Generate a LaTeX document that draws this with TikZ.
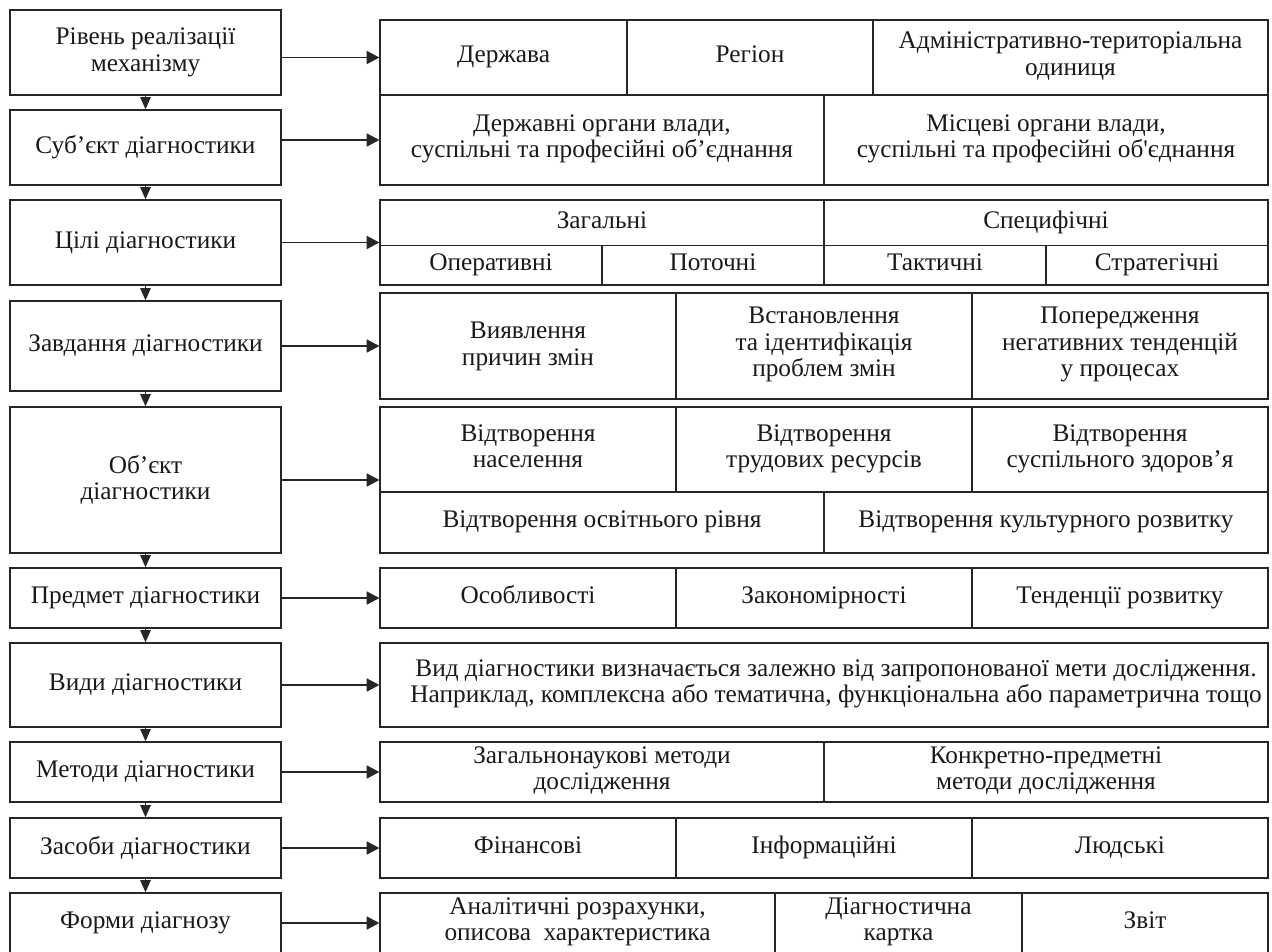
\documentclass[tikz,border=0pt]{standalone}
\usepackage{fontspec}
\setmainfont{Liberation Serif}
\usetikzlibrary{arrows.meta}
\begin{document}
\begin{tikzpicture}[x=0.02cm, y=-0.02cm,
    lbox/.style={draw=black!85, line width=0.8pt, minimum width=5.42cm, align=center,
        font=\fontsize{14.4}{15.2}\selectfont, text=black!90},
    frame/.style={draw=black!85, line width=0.8pt, minimum width=17.76cm, inner sep=0pt},
    rule/.style={draw=black!85, line width=0.8pt},
    txt/.style={align=center, font=\fontsize{14.4}{15.2}\selectfont, text=black!90, inner sep=0pt,
        execute at begin node=\strut, execute at end node=\strut},
    harr/.style={draw=black!85, line width=0.8pt, -{Triangle[length=7.2pt, width=7.4pt]}},
    varr/.style={draw=black!85, line width=0.8pt, -{Triangle[length=7pt, width=6pt]}}]
    \useasboundingbox (0,0) rectangle (1272,951);
    \clip (0,0) rectangle (1272,951);

    \node[lbox, minimum height=1.70cm] (l1) at (145.5,52.5) {Рівень реалізації\\механізму};
    \node[lbox, minimum height=1.50cm] (l2) at (145.5,147.5) {Суб’єкт діагностики};
    \node[lbox, minimum height=1.70cm] (l3) at (145.5,242.5) {Цілі діагностики};
    \node[lbox, minimum height=1.80cm] (l4) at (145.5,346) {Завдання діагностики};
    \node[lbox, minimum height=2.92cm] (l5) at (145.5,480) {Об’єкт\\діагностики};
    \node[lbox, minimum height=1.20cm] (l6) at (145.5,598) {Предмет діагностики};
    \node[lbox, minimum height=1.68cm] (l7) at (145.5,685) {Види діагностики};
    \node[lbox, minimum height=1.20cm] (l8) at (145.5,772) {Методи діагностики};
    \node[lbox, minimum height=1.20cm] (l9) at (145.5,848) {Засоби діагностики};
    \node[lbox, minimum height=1.20cm] (l10) at (145.5,923) {Форми діагнозу};

    \node[frame, minimum height=1.50cm] (r1) at (824,57.5) {};
    \node[frame, minimum height=1.80cm] (r2) at (824,140) {};
    \node[frame, minimum height=1.70cm] (r3) at (824,242.5) {};
    \node[frame, minimum height=2.12cm] (r4) at (824,346) {};
    \node[frame, minimum height=2.92cm] (r5) at (824,480) {};
    \node[frame, minimum height=1.20cm] (r6) at (824,598) {};
    \node[frame, minimum height=1.68cm] (r7) at (824,685) {};
    \node[frame, minimum height=1.20cm] (r8) at (824,772) {};
    \node[frame, minimum height=1.20cm] (r9) at (824,848) {};
    \node[frame, minimum height=1.20cm] (r10) at (824,923) {};

    \draw[rule] (627,20) -- (627,95);
    \draw[rule] (873,20) -- (873,95);
    \draw[rule] (824,95) -- (824,185);
    \draw[rule] (380,245.5) -- (1268,245.5);
    \draw[rule] (824,200) -- (824,285);
    \draw[rule] (602,245.5) -- (602,285);
    \draw[rule] (1046,245.5) -- (1046,285);
    \draw[rule] (676,293) -- (676,399);
    \draw[rule] (972,293) -- (972,399);
    \draw[rule] (380,492) -- (1268,492);
    \draw[rule] (676,407) -- (676,492);
    \draw[rule] (972,407) -- (972,492);
    \draw[rule] (824,492) -- (824,553);
    \draw[rule] (676,568) -- (676,628);
    \draw[rule] (972,568) -- (972,628);
    \draw[rule] (824,742) -- (824,802);
    \draw[rule] (676,818) -- (676,878);
    \draw[rule] (972,818) -- (972,878);
    \draw[rule] (775,893) -- (775,953);
    \draw[rule] (1022,893) -- (1022,953);

    \node[txt] (r1a) at (503.5,57.5) {Держава};
    \node[txt] (r1b) at (750,57.5) {Регіон};
    \node[txt] (r1c) at (1070.5,57.5) {Адміністративно-територіальна\\одиниця};
    \node[txt] (r2a) at (602,140) {Державні органи влади,\\суспільні та професійні об’єднання};
    \node[txt] (r2b) at (1046,140) {Місцеві органи влади,\\суспільні та професійні об\textquotesingle єднання};
    \node[txt] (r3a) at (602,223) {Загальні};
    \node[txt] (r3b) at (1046,223) {Специфічні};
    \node[txt] (r3c) at (491,265.5) {Оперативні};
    \node[txt] (r3d) at (713,265.5) {Поточні};
    \node[txt] (r3e) at (935,265.5) {Тактичні};
    \node[txt] (r3f) at (1157,265.5) {Стратегічні};
    \node[txt] (r4a) at (528,348) {Виявлення\\причин змін};
    \node[txt] (r4b) at (824,346) {Встановлення\\та ідентифікація\\проблем змін};
    \node[txt] (r4c) at (1120,346) {Попередження\\негативних тенденцій\\у процесах};
    \node[txt] (r5a) at (528,450) {Відтворення\\населення};
    \node[txt] (r5b) at (824,450) {Відтворення\\трудових ресурсів};
    \node[txt] (r5c) at (1120,450) {Відтворення\\суспільного здоров’я};
    \node[txt] (r5d) at (602,522.5) {Відтворення освітнього рівня};
    \node[txt] (r5e) at (1046,522.5) {Відтворення культурного розвитку};
    \node[txt] (r6a) at (528,598) {Особливості};
    \node[txt] (r6b) at (824,598) {Закономірності};
    \node[txt] (r6c) at (1120,598) {Тенденції розвитку};
    \node[txt] (r7a) at (836,685) {Вид діагностики визначається залежно від запропонованої мети дослідження.\\Наприклад, комплексна або тематична, функціональна або параметрична тощо};
    \node[txt] (r8a) at (602,772) {Загальнонаукові методи\\дослідження};
    \node[txt] (r8b) at (1046,772) {Конкретно-предметні\\методи дослідження};
    \node[txt] (r9a) at (528,848) {Фінансові};
    \node[txt] (r9b) at (824,848) {Інформаційні};
    \node[txt] (r9c) at (1120,848) {Людські};
    \node[txt] (r10a) at (577.5,923) {Аналітичні розрахунки,\\описова\ \ характеристика};
    \node[txt] (r10b) at (898.5,923) {Діагностична\\картка};
    \node[txt] (r10c) at (1145,923) {Звіт};

    \draw[harr] (l1.east |- r1.west) -- (r1.west);
    \draw[harr] (l2.east |- r2.west) -- (r2.west);
    \draw[harr] (l3.east |- r3.west) -- (r3.west);
    \draw[harr] (l4.east |- r4.west) -- (r4.west);
    \draw[harr] (l5.east |- r5.west) -- (r5.west);
    \draw[harr] (l6.east |- r6.west) -- (r6.west);
    \draw[harr] (l7.east |- r7.west) -- (r7.west);
    \draw[harr] (l8.east |- r8.west) -- (r8.west);
    \draw[harr] (l9.east |- r9.west) -- (r9.west);
    \draw[harr] (l10.east |- r10.west) -- (r10.west);

    \draw[varr] (l1.south) -- (l2.north);
    \draw[varr] (l2.south) -- (l3.north);
    \draw[varr] (l3.south) -- (l4.north);
    \draw[varr] (l4.south) -- (l5.north);
    \draw[varr] (l5.south) -- (l6.north);
    \draw[varr] (l6.south) -- (l7.north);
    \draw[varr] (l7.south) -- (l8.north);
    \draw[varr] (l8.south) -- (l9.north);
    \draw[varr] (l9.south) -- (l10.north);
\end{tikzpicture}
\end{document}
